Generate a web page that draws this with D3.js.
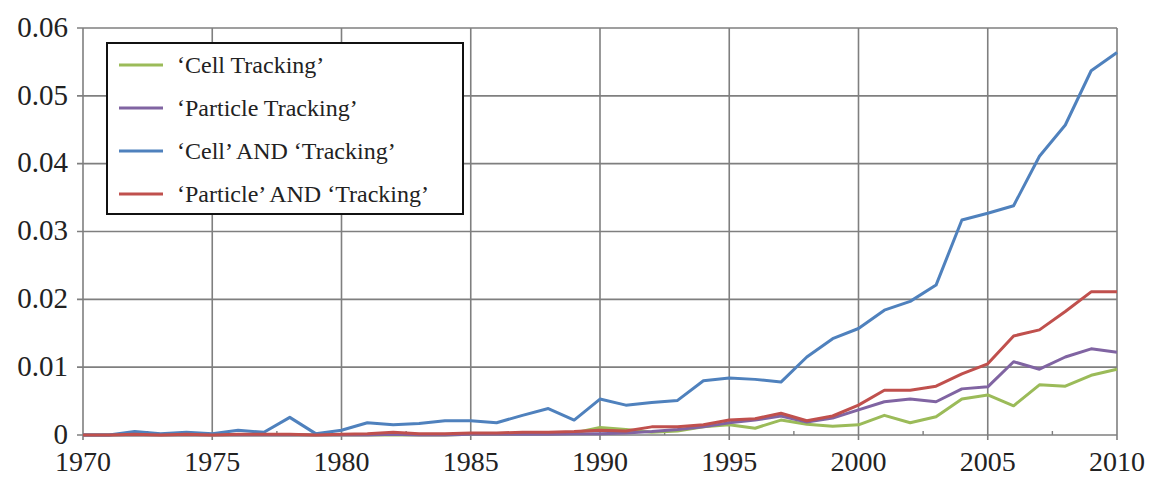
<!DOCTYPE html>
<html>
<head>
<meta charset="utf-8">
<script src="https://cdn.jsdelivr.net/npm/d3@7"></script>
<style>
  body { margin: 0; background: #fff; }
</style>
</head>
<body>
<div id="chart"></div>
<script>
// data
const years = d3.range(1970, 2011);

const cellTracking = [
  0, 0, 0, 0, 0, 0, 0, 0, 0, 0,
  0, 0, 0, 0, 0, 0.0001, 0.0001, 0.0002, 0.0002, 0.0003,
  0.0011, 0.0008, 0.0004, 0.0006, 0.0012, 0.0015, 0.0010, 0.0022, 0.0016, 0.0013,
  0.0015, 0.0029, 0.0018, 0.0027, 0.0053, 0.0059, 0.0043, 0.0074, 0.0072, 0.0088,
  0.0097
];

const particleTracking = [
  0, 0, 0, 0, 0, 0, 0, 0, 0, 0,
  0, 0, 0.0001, 0, 0, 0.0001, 0.0001, 0.0001, 0.0001, 0.0002,
  0.0002, 0.0003, 0.0005, 0.0008, 0.0012, 0.0018, 0.0022, 0.0028, 0.0019, 0.0025,
  0.0037, 0.0049, 0.0053, 0.0049, 0.0068, 0.0071, 0.0108, 0.0097, 0.0115, 0.0127,
  0.0122
];

const cellAndTracking = [
  0, 0, 0.0005, 0.0002, 0.0004, 0.0002, 0.0007, 0.0004, 0.0026, 0.0002,
  0.0007, 0.0018, 0.0015, 0.0017, 0.0021, 0.0021, 0.0018, 0.0029, 0.0039, 0.0022,
  0.0053, 0.0044, 0.0048, 0.0051, 0.0080, 0.0084, 0.0082, 0.0078, 0.0115, 0.0142,
  0.0157, 0.0184, 0.0197, 0.0221, 0.0317, 0.0327, 0.0338, 0.0411, 0.0457, 0.0537,
  0.0564
];

const particleAndTracking = [
  0, 0, 0.0001, 0, 0.0001, 0, 0.0001, 0.0001, 0.0001, 0,
  0.0001, 0.0002, 0.0004, 0.0002, 0.0002, 0.0003, 0.0003, 0.0004, 0.0004, 0.0005,
  0.0007, 0.0006, 0.0012, 0.0012, 0.0015, 0.0022, 0.0024, 0.0032, 0.0021, 0.0028,
  0.0044, 0.0066, 0.0066, 0.0072, 0.0090, 0.0105, 0.0146, 0.0155, 0.0182, 0.0211,
  0.0211
];

const seriesNames = ["\u2018Cell Tracking\u2019", "\u2018Particle Tracking\u2019",
                     "\u2018Cell\u2019 AND \u2018Tracking\u2019", "\u2018Particle\u2019 AND \u2018Tracking\u2019"];
const seriesValues = [cellTracking, particleTracking, cellAndTracking, particleAndTracking];
const seriesColors = ["#9bbb59", "#8064a2", "#4f81bd", "#c0504d"];

const xTicks = [1970, 1975, 1980, 1985, 1990, 1995, 2000, 2005, 2010];
const yTicks = [0, 0.01, 0.02, 0.03, 0.04, 0.05, 0.06];

const FONT = "'Liberation Serif', 'DejaVu Serif', 'Times New Roman', serif";

// frame
const FRAME_WIDTH = 1151;
const FRAME_HEIGHT = 478;
const MARGINS = {left: 83, right: 34, top: 28, bottom: 43};
const VIS_WIDTH = FRAME_WIDTH - MARGINS.left - MARGINS.right;
const VIS_HEIGHT = FRAME_HEIGHT - MARGINS.top - MARGINS.bottom;

const FRAME = d3.select("#chart")
  .append("svg")
    .attr("width", FRAME_WIDTH)
    .attr("height", FRAME_HEIGHT)
    .attr("font-family", FONT);

const x_scale = d3.scaleLinear()
  .domain([1970, 2010])
  .range([MARGINS.left, MARGINS.left + VIS_WIDTH]);

const y_scale = d3.scaleLinear()
  .domain([0, 0.06])
  .range([MARGINS.top + VIS_HEIGHT, MARGINS.top]);

// gridlines
FRAME.append("g")
  .selectAll("line")
  .data(yTicks)
  .enter()
  .append("line")
    .attr("x1", MARGINS.left - 6)
    .attr("x2", MARGINS.left + VIS_WIDTH)
    .attr("y1", d => y_scale(d))
    .attr("y2", d => y_scale(d))
    .attr("stroke", "#7f7f7f")
    .attr("stroke-width", 1.6);

FRAME.append("g")
  .selectAll("line")
  .data(xTicks)
  .enter()
  .append("line")
    .attr("x1", d => x_scale(d))
    .attr("x2", d => x_scale(d))
    .attr("y1", MARGINS.top)
    .attr("y2", MARGINS.top + VIS_HEIGHT + 5)
    .attr("stroke", "#7f7f7f")
    .attr("stroke-width", 1.6);

// minor ticks on the x axis
FRAME.append("g")
  .selectAll("line")
  .data(d3.range(1972.5, 2010, 5))
  .enter()
  .append("line")
    .attr("x1", d => x_scale(d))
    .attr("x2", d => x_scale(d))
    .attr("y1", MARGINS.top + VIS_HEIGHT - 4)
    .attr("y2", MARGINS.top + VIS_HEIGHT)
    .attr("stroke", "#7f7f7f")
    .attr("stroke-width", 1.4);

// tick labels
FRAME.append("g")
  .selectAll("text")
  .data(yTicks)
  .enter()
  .append("text")
    .attr("x", MARGINS.left - 15)
    .attr("y", d => y_scale(d))
    .attr("dy", "0.3em")
    .attr("text-anchor", "end")
    .attr("font-size", "29px")
    .attr("fill", "#222")
    .text(d => d === 0 ? "0" : d.toFixed(2));

FRAME.append("g")
  .selectAll("text")
  .data(xTicks)
  .enter()
  .append("text")
    .attr("x", d => x_scale(d))
    .attr("y", 471)
    .attr("text-anchor", "middle")
    .attr("font-size", "28px")
    .attr("fill", "#222")
    .text(d => d);

// lines
const line = d3.line()
  .x((d, i) => x_scale(years[i]))
  .y(d => y_scale(d));

FRAME.append("g")
  .selectAll("path")
  .data(seriesValues)
  .enter()
  .append("path")
    .attr("d", d => line(d))
    .attr("fill", "none")
    .attr("stroke", (d, i) => seriesColors[i])
    .attr("stroke-width", 3)
    .attr("stroke-linejoin", "round");

// legend
const LEGEND = {x: 107, y: 43, w: 356, h: 171, rowGap: 43};

const legend = FRAME.append("g");

legend.append("rect")
  .attr("x", LEGEND.x)
  .attr("y", LEGEND.y)
  .attr("width", LEGEND.w)
  .attr("height", LEGEND.h)
  .attr("fill", "#fff")
  .attr("stroke", "#111")
  .attr("stroke-width", 2);

const rows = legend.selectAll("g.row")
  .data(seriesNames)
  .enter()
  .append("g")
    .attr("class", "row")
    .attr("transform", (d, i) => "translate(" + LEGEND.x + "," + (LEGEND.y + 22 + i * LEGEND.rowGap) + ")");

rows.append("line")
  .attr("x1", 12)
  .attr("x2", 56)
  .attr("y1", 0)
  .attr("y2", 0)
  .attr("stroke", (d, i) => seriesColors[i])
  .attr("stroke-width", 3);

rows.append("text")
  .attr("x", 70)
  .attr("y", 0)
  .attr("dy", "0.35em")
  .attr("font-size", "24px")
  .attr("fill", "#222")
  .text(d => d);
</script>
</body>
</html>
